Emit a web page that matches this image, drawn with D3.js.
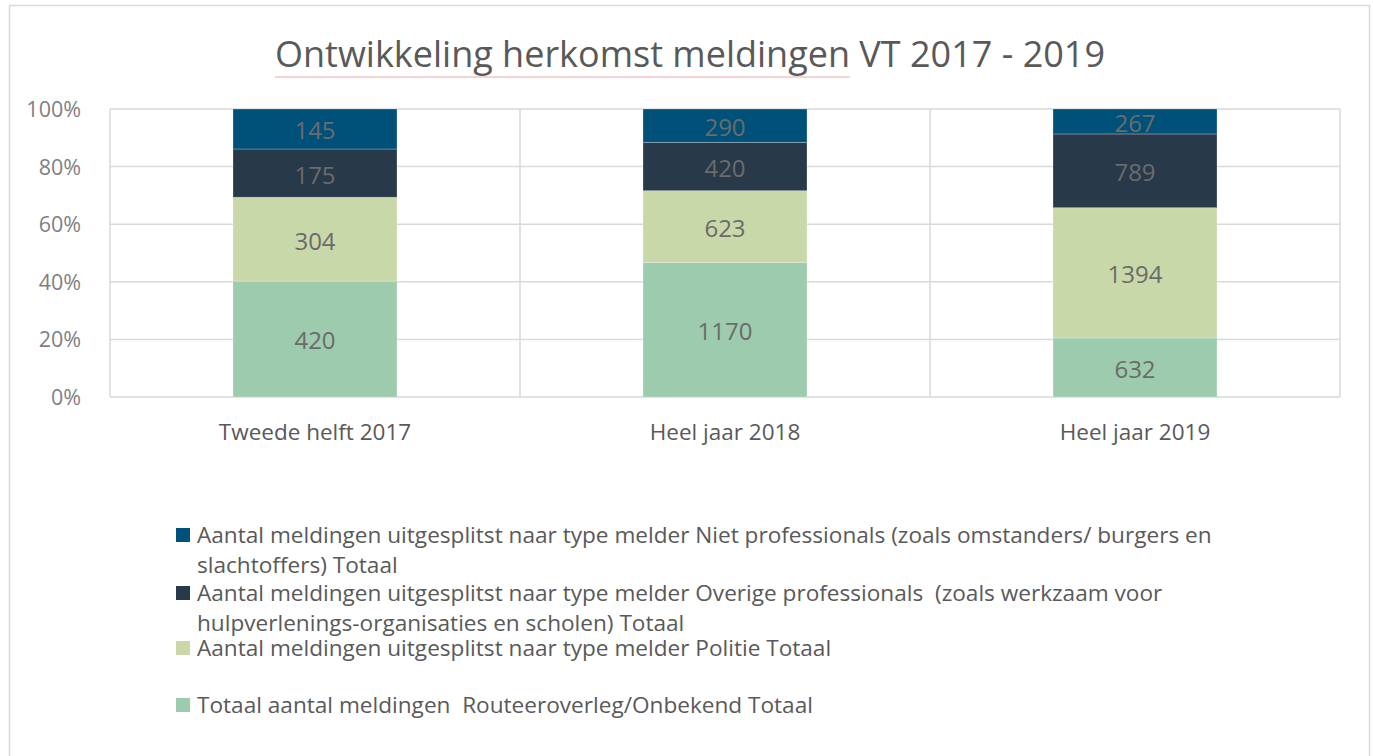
<!DOCTYPE html>
<html>
<head>
<meta charset="utf-8">
<script src="https://cdn.jsdelivr.net/npm/d3@7"></script>
<style>
  body { margin: 0; background: #fff; }
  text { font-family: "Open Sans", "Noto Sans", sans-serif; }
</style>
</head>
<body>
<svg id="chart" width="1373" height="756"></svg>
<script>
// chart data
var categories = ['Tweede helft 2017', 'Heel jaar 2018', 'Heel jaar 2019'];
var nietProfessionals = [145, 290, 267];
var overigeProfessionals = [175, 420, 789];
var politie = [304, 623, 1394];
var routeoverleg = [420, 1170, 632];
var yTicks = [0, 0.2, 0.4, 0.6, 0.8, 1];

// legend entries, top to bottom (lines wrapped as in the original)
var legendLabels = [
  ['Aantal meldingen uitgesplitst naar type melder Niet professionals (zoals omstanders/ burgers en', 'slachtoffers) Totaal'],
  ['Aantal meldingen uitgesplitst naar type melder Overige professionals  (zoals werkzaam voor', 'hulpverlenings-organisaties en scholen) Totaal'],
  ['Aantal meldingen uitgesplitst naar type melder Politie Totaal'],
  ['Totaal aantal meldingen  Routeeroverleg/Onbekend Totaal']
];

var seriesKeys = ['routeoverleg', 'politie', 'overige', 'niet'];
var colors = {
  routeoverleg: '#9dcbad',
  politie: '#c9d8a8',
  overige: '#283a4a',
  niet: '#00517a'
};

var rows = categories.map(function (c, i) {
  return {
    cat: c,
    routeoverleg: routeoverleg[i],
    politie: politie[i],
    overige: overigeProfessionals[i],
    niet: nietProfessionals[i]
  };
});

var svg = d3.select('#chart');
var plot = { left: 110, right: 1340, top: 109, bottom: 397 };

// outer frame
svg.append('rect')
  .attr('x', 9.5).attr('y', 5.5)
  .attr('width', 1360).attr('height', 760)
  .attr('fill', '#fff')
  .attr('stroke', '#d9d9d9')
  .attr('stroke-width', 1.5);

// title
var title = svg.append('text')
  .attr('x', 690).attr('y', 67)
  .attr('text-anchor', 'middle')
  .attr('font-size', 36)
  .attr('fill', '#595959')
  .text('Ontwikkeling herkomst meldingen VT 2017 - 2019');

// spellcheck squiggle under the first three words
var tb = title.node().getBBox();
var underlineW = title.node().getSubStringLength(0, 31);
svg.append('line')
  .attr('x1', tb.x).attr('x2', tb.x + underlineW)
  .attr('y1', 77).attr('y2', 77)
  .attr('stroke', '#f2a7a7')
  .attr('stroke-width', 1);

var x = d3.scaleBand()
  .domain(categories)
  .range([plot.left, plot.right])
  .paddingInner(0.6)
  .paddingOuter(0.3);

var y = d3.scaleLinear()
  .domain([0, 1])
  .range([plot.bottom, plot.top]);

// grid
var grid = svg.append('g').attr('stroke', '#d9d9d9').attr('stroke-width', 1.5);
grid.selectAll('.h').data(yTicks).enter().append('line')
  .attr('x1', plot.left).attr('x2', plot.right)
  .attr('y1', function (d) { return y(d); })
  .attr('y2', function (d) { return y(d); });
var step = x.step();
var vlines = [plot.left].concat(categories.map(function (c) {
  return x(c) + x.bandwidth() / 2 + step / 2;
}));
grid.selectAll('.v').data(vlines).enter().append('line')
  .attr('x1', function (d) { return d; }).attr('x2', function (d) { return d; })
  .attr('y1', plot.top).attr('y2', plot.bottom);

// y axis
var yAxis = svg.append('g')
  .attr('transform', 'translate(' + (plot.left - 26) + ',0)')
  .call(d3.axisLeft(y).tickValues(yTicks).tickFormat(d3.format('.0%')).tickSize(0));
yAxis.select('.domain').remove();
yAxis.selectAll('text')
  .attr('font-size', 21.5)
  .attr('font-family', '"Open Sans", sans-serif')
  .attr('fill', '#7f7f7f')
  .attr('dy', '0.35em');

// x axis labels
var xAxis = svg.append('g')
  .attr('transform', 'translate(0,' + (plot.bottom + 24) + ')')
  .call(d3.axisBottom(x).tickSize(0));
xAxis.select('.domain').remove();
xAxis.selectAll('text')
  .attr('font-size', 22.5)
  .attr('font-family', '"Open Sans", sans-serif')
  .attr('fill', '#595959');

// stacked percentages
var stack = d3.stack().keys(seriesKeys).offset(d3.stackOffsetExpand);
var series = stack(rows);

var layers = svg.selectAll('.layer').data(series).enter().append('g')
  .attr('fill', function (d) { return colors[d.key]; });

layers.selectAll('rect').data(function (d) { return d; }).enter().append('rect')
  .attr('x', function (d) { return x(d.data.cat); })
  .attr('width', x.bandwidth())
  .attr('y', function (d) { return y(d[1]); })
  .attr('height', function (d) { return y(d[0]) - y(d[1]); })
  .attr('stroke', 'rgba(255,255,255,0.25)')
  .attr('stroke-width', 1);

layers.selectAll('text').data(function (d) {
  return d.map(function (p) { p.key = d.key; return p; });
}).enter().append('text')
  .attr('x', function (d) { return x(d.data.cat) + x.bandwidth() / 2; })
  .attr('y', function (d) { return (y(d[0]) + y(d[1])) / 2 + 2; })
  .attr('dy', '0.35em')
  .attr('text-anchor', 'middle')
  .attr('font-size', 24)
  .attr('fill', '#6b6b6b')
  .text(function (d) { return d.data[d.key]; });

// legend
var legendColors = [colors.niet, colors.overige, colors.politie, colors.routeoverleg];
var legendY = [543, 601, 656, 713];
var legend = svg.append('g');
legendLabels.forEach(function (lines, i) {
  legend.append('rect')
    .attr('x', 176).attr('y', legendY[i] - 15)
    .attr('width', 14).attr('height', 14)
    .attr('fill', legendColors[i]);
  var t = legend.append('text')
    .attr('x', 197).attr('y', legendY[i])
    .attr('font-size', 22.6)
    .attr('fill', '#595959');
  lines.forEach(function (ln, j) {
    t.append('tspan')
      .attr('x', 197)
      .attr('dy', j === 0 ? 0 : 30)
      .attr('xml:space', 'preserve')
      .text(ln);
  });
});
</script>
</body>
</html>
